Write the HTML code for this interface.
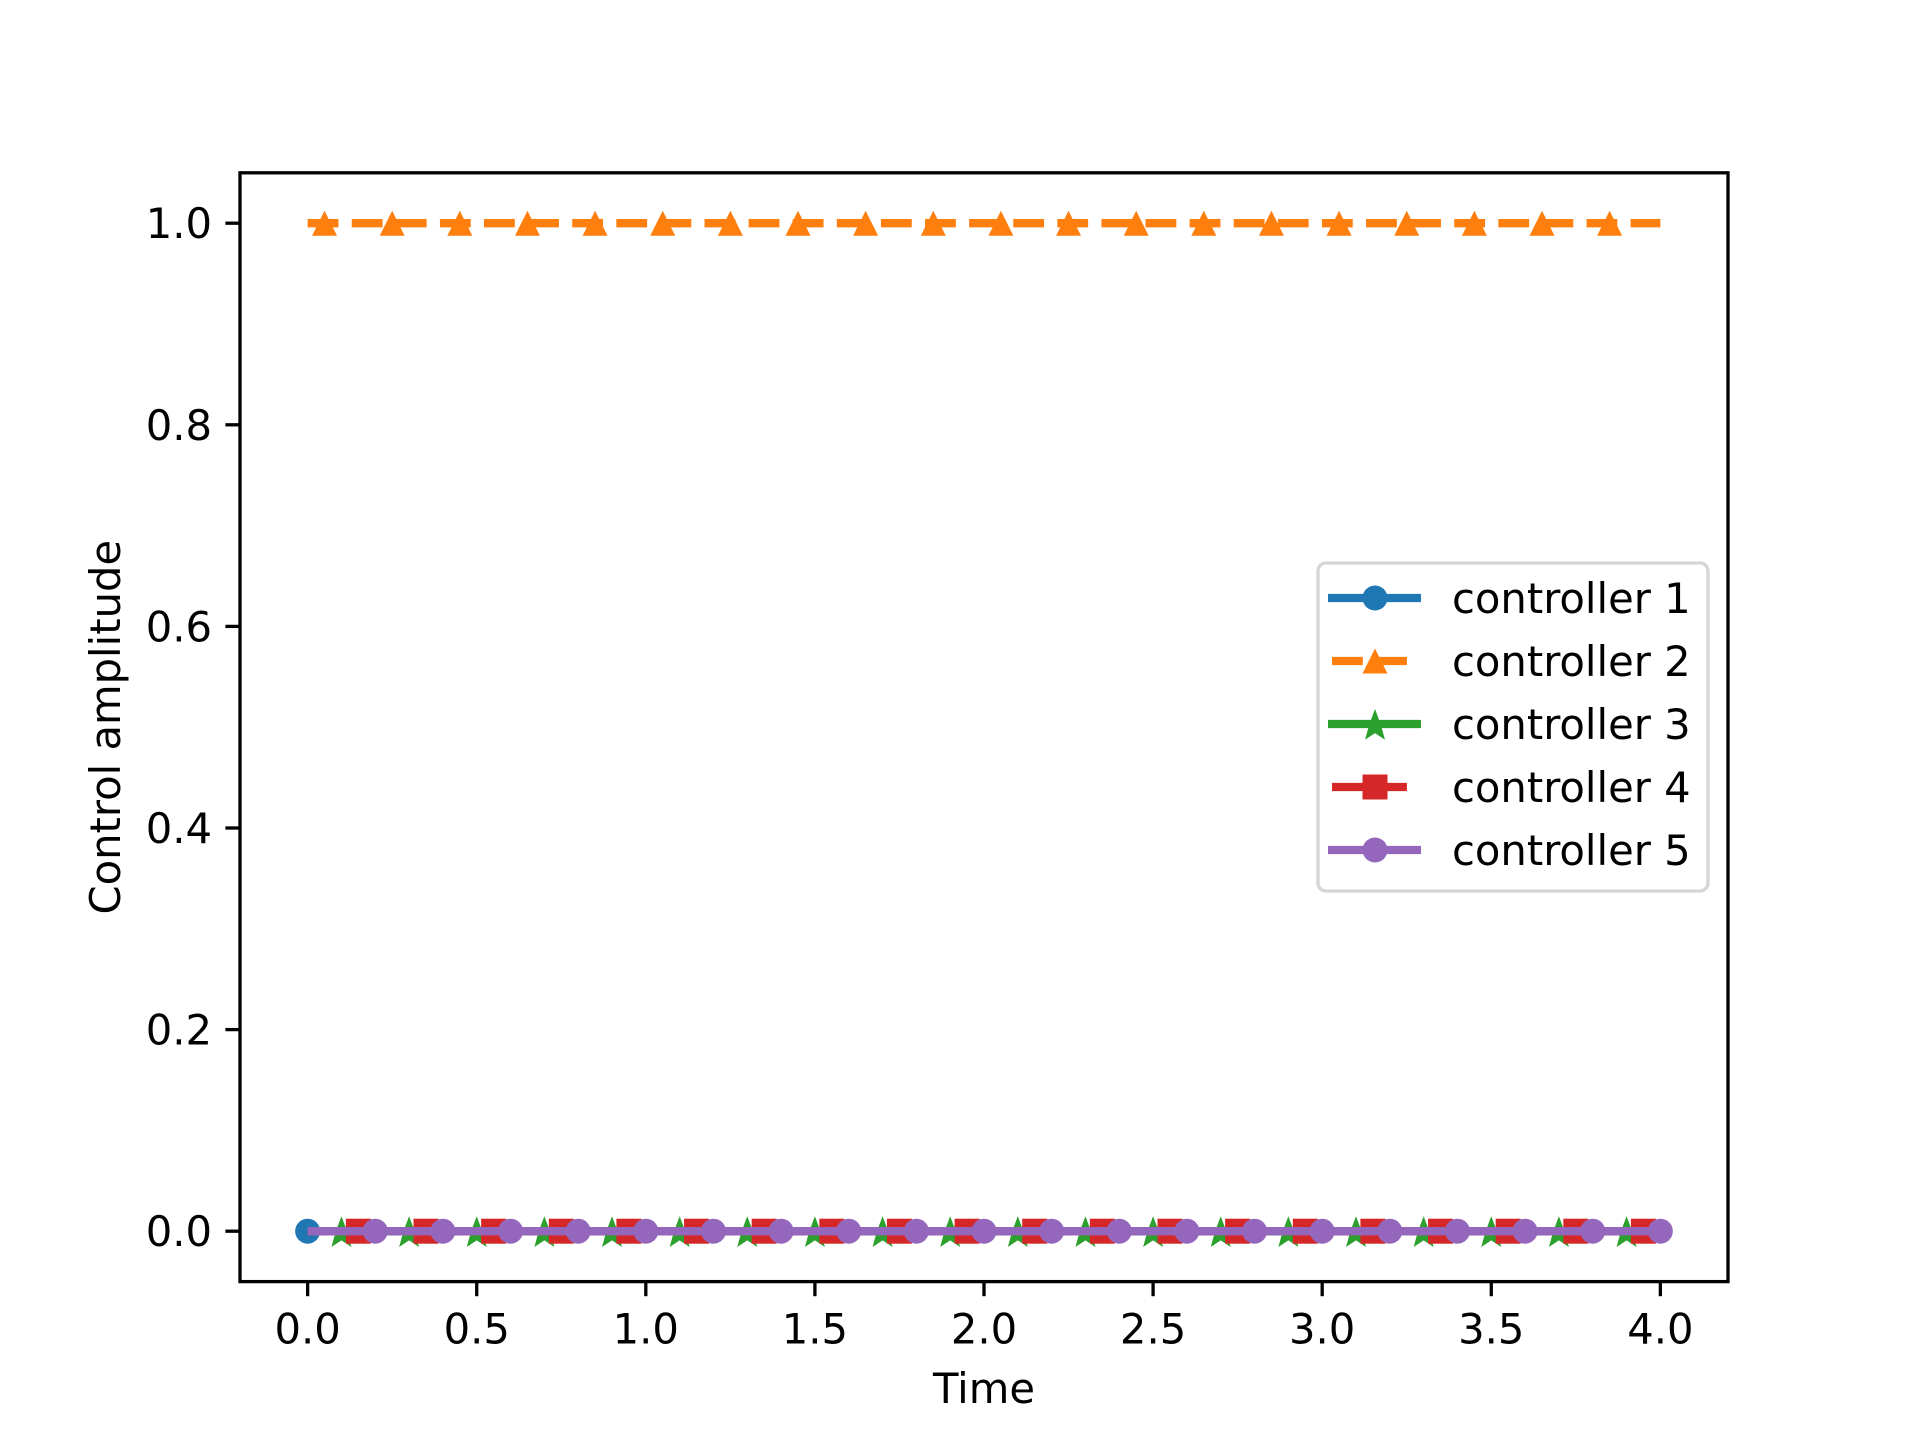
<!DOCTYPE html>
<html><head><meta charset="utf-8"><style>
html,body{margin:0;padding:0;background:#fff}
svg{display:block;font-family:"DejaVu Sans","Liberation Sans",sans-serif}
</style></head><body>
<svg id="chart" width="1920" height="1440" viewBox="0 0 1920 1440" xmlns="http://www.w3.org/2000/svg">
<rect width="1920" height="1440" fill="#fff"/>
<g id="plot"></g>
<g id="axes"></g>
<g id="legend"></g>
</svg>
<script>
const xTicks = [0.0, 0.5, 1.0, 1.5, 2.0, 2.5, 3.0, 3.5, 4.0];
const xTickLabels = ["0.0","0.5","1.0","1.5","2.0","2.5","3.0","3.5","4.0"];
const yTicks = [0.0, 0.2, 0.4, 0.6, 0.8, 1.0];
const yTickLabels = ["0.0","0.2","0.4","0.6","0.8","1.0"];
const seriesNames = ["controller 1","controller 2","controller 3","controller 4","controller 5"];
const c1Time = [0.0, 4.0];
const c1Value = [0, 0];
const c1Markers = [0.0];
const c2Time = [0.0, 4.0];
const c2Value = [1, 1];
const c2Markers = [0.05,0.25,0.45,0.65,0.85,1.05,1.25,1.45,1.65,1.85,2.05,2.25,2.45,2.65,2.85,3.05,3.25,3.45,3.65,3.85];
const c3Time = [0.0, 4.0];
const c3Value = [0, 0];
const c3Markers = [0.1,0.3,0.5,0.7,0.9,1.1,1.3,1.5,1.7,1.9,2.1,2.3,2.5,2.7,2.9,3.1,3.3,3.5,3.7,3.9];
const c4Time = [0.0, 4.0];
const c4Value = [0, 0];
const c4Markers = [0.15,0.35,0.55,0.75,0.95,1.15,1.35,1.55,1.75,1.95,2.15,2.35,2.55,2.75,2.95,3.15,3.35,3.55,3.75,3.95];
const c5Time = [0.0, 4.0];
const c5Value = [0, 0];
const c5Markers = [0.2,0.4,0.6,0.8,1.0,1.2,1.4,1.6,1.8,2.0,2.2,2.4,2.6,2.8,3.0,3.2,3.4,3.6,3.8,4.0];

const NS="http://www.w3.org/2000/svg";
const L=240,R=1728,T=172.8,B=1281.6;
const xmin=-0.2,xmax=4.2,ymin=-0.05,ymax=1.05;
const X=v=>L+(v-xmin)/(xmax-xmin)*(R-L);
const Y=v=>B-(v-ymin)/(ymax-ymin)*(B-T);
function mk(tag,attrs,parent){const e=document.createElementNS(NS,tag);for(const k in attrs)e.setAttribute(k,attrs[k]);parent.appendChild(e);return e;}
const plot=document.getElementById('plot'),axes=document.getElementById('axes'),leg=document.getElementById('legend');
const LW=8.3,MS=25;
function marker(type,cx,cy,color,parent){
  let e;
  if(type==='o'){e=mk('circle',{cx:cx,cy:cy,r:MS/2,fill:color},parent);}
  else if(type==='s'){e=mk('rect',{x:cx-MS/2,y:cy-MS/2,width:MS,height:MS,fill:color},parent);}
  else if(type==='^'){const r=MS/2;e=mk('polygon',{points:`${cx},${cy-r} ${cx+r},${cy+r} ${cx-r},${cy+r}`,fill:color},parent);}
  else if(type==='*'){const ro=17,ri=ro*0.42;const oy=cy+2;let p=[];for(let i=0;i<10;i++){const a=-Math.PI/2+i*Math.PI/5;const rr=i%2?ri:ro;p.push((cx+rr*Math.cos(a)).toFixed(2)+','+(oy+rr*Math.sin(a)).toFixed(2));}e=mk('polygon',{points:p.join(' '),fill:color},parent);}
  return e;
}
const series=[
 {t:c1Time,v:c1Value,m:c1Markers,color:'#1f77b4',mt:'o',dash:null},
 {t:c2Time,v:c2Value,m:c2Markers,color:'#ff7f0e',mt:'^',dash:'30.8 13.3'},
 {t:c3Time,v:c3Value,m:c3Markers,color:'#2ca02c',mt:'*',dash:null},
 {t:c4Time,v:c4Value,m:c4Markers,color:'#d62728',mt:'s',dash:'30.8 13.3'},
 {t:c5Time,v:c5Value,m:c5Markers,color:'#9467bd',mt:'o',dash:null}
];
series.forEach((s,i)=>{
  const g=mk('g',{},plot);
  
  
  const pts=s.t.map((t,j)=>X(t)+','+Y(s.v[j])).join(' ');
  const ln=mk('polyline',{points:pts,fill:'none',stroke:s.color,'stroke-width':LW},g);
  if(s.dash)ln.setAttribute('stroke-dasharray',s.dash);
  
  
  const val=s.v[0];
  s.m.forEach(t=>{
    const e=marker(s.mt,X(t),Y(val),s.color,g);
    
    
  });
});
const fr=mk('rect',{x:L,y:T,width:R-L,height:B-T,fill:'none',stroke:'#000','stroke-width':3.3},axes);


xTicks.forEach((v,i)=>{
  const tk=mk('line',{x1:X(v),x2:X(v),y1:B,y2:B+14.6,stroke:'#000','stroke-width':3.3},axes);
  
  
  const tx=mk('text',{x:X(v),y:B+62,'font-size':41.7,'text-anchor':'middle',fill:'#000'},axes);
  tx.textContent=xTickLabels[i];
  
  
});
yTicks.forEach((v,i)=>{
  const tk=mk('line',{x1:L-14.6,x2:L,y1:Y(v),y2:Y(v),stroke:'#000','stroke-width':3.3},axes);
  
  
  const tx=mk('text',{x:L-28,y:Y(v)+15,'font-size':41.7,'text-anchor':'end',fill:'#000'},axes);
  tx.textContent=yTickLabels[i];
  
  
});
const xl=mk('text',{x:(L+R)/2,y:1403,'font-size':41.7,'text-anchor':'middle',fill:'#000'},axes);
xl.textContent='Time';


const yl=mk('text',{x:0,y:0,'font-size':41.7,'text-anchor':'middle',fill:'#000',transform:`translate(120,${(T+B)/2}) rotate(-90)`},axes);
yl.textContent='Control amplitude';


const box=mk('rect',{x:1338,y:573,width:390,height:328,rx:8,fill:'#fff','fill-opacity':0.8,stroke:'#d5d5d5','stroke-width':3.3},leg);
box.setAttribute('transform','translate(-20,-10)');


const rowsY=[598,661,724,787,850];
const lx=-4;
series.forEach((s,i)=>{
  const g=mk('g',{transform:`translate(${lx},0)`},leg);
  
  
  const ln=mk('line',{x1:s.dash?1336:1332,x2:s.dash?1413:1425,y1:rowsY[i],y2:rowsY[i],stroke:s.color,'stroke-width':LW},g);
  if(s.dash)ln.setAttribute('stroke-dasharray','30.8 13.3');
  marker(s.mt,1379,rowsY[i],s.color,g);
  const tx=mk('text',{x:1456,y:rowsY[i]+15,'font-size':41.7,fill:'#000'},g);
  tx.textContent=seriesNames[i];
});
</script>
</body></html>
